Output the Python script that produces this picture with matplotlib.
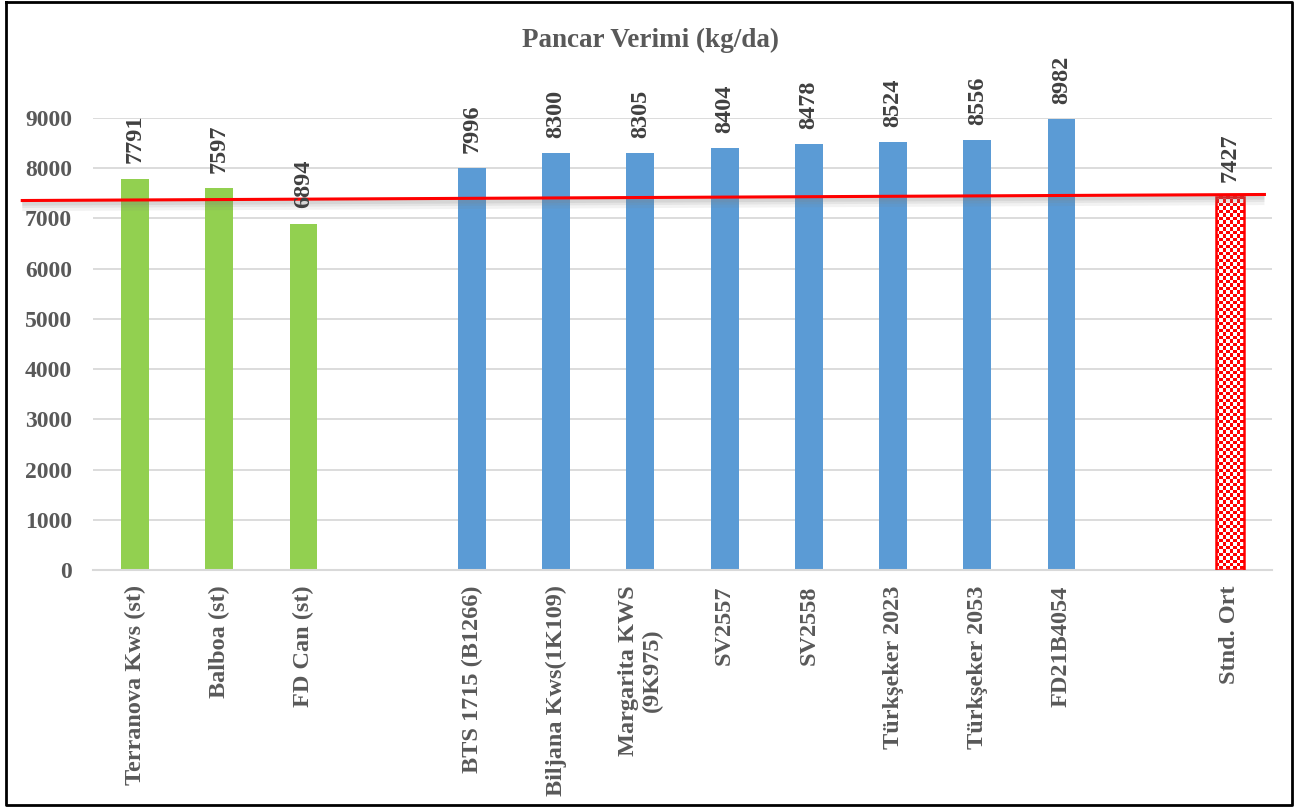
#!/usr/bin/env python3
"""Pancar verimi bar chart"""
import numpy as np
import matplotlib.pyplot as plt
from matplotlib.colors import ListedColormap
from matplotlib.lines import Line2D

standard_names = ["Terranova Kws (st)", "Balboa (st)", "FD Can (st)"]
standard_yield = [7791, 7597, 6894]
candidate_names = ["BTS 1715 (B1266)", "Biljana Kws(1K109)", "Margarita KWS\n(9K975)",
                   "SV2557", "SV2558", "Türkşeker 2023", "Türkşeker 2053", "FD21B4054"]
candidate_yield = [7996, 8300, 8305, 8404, 8478, 8524, 8556, 8982]
mean_name = "Stnd. Ort"
mean_yield = 7427
# hand drawn red reference line (start / end value)
ref_line_x = [-1.34, 13.41]
ref_line_y = [7357, 7477]
y_ticks = list(range(0, 9001, 1000))

plt.rcParams['font.family'] = ['Liberation Serif', 'DejaVu Serif']
text_grey = '#595959'
label_grey = '#404040'

fig = plt.figure(figsize=(13.09, 8.07), dpi=100)
ax = fig.add_axes([93 / 1309, 1 - 570 / 807, (1272 - 93) / 1309, (570 - 118) / 807])

std_pos = np.arange(len(standard_names))
cand_pos = np.arange(len(candidate_names)) + len(standard_names) + 1
mean_pos = cand_pos[-1] + 2
width = 0.33

ax.bar(std_pos, standard_yield, width, color='#92D050', zorder=2)
ax.bar(cand_pos, candidate_yield, width, color='#5B9BD5', zorder=2)
mean_bar = ax.bar(mean_pos, mean_yield, width, facecolor='none',
                  edgecolor='#FF0000', linewidth=1.8, zorder=3)[0]

ax.set_xlim(-0.5, mean_pos + 0.5)
ax.set_ylim(0, 9000)

# checkerboard fill for the mean bar
x0, x1 = mean_pos - width / 2, mean_pos + width / 2
p0 = ax.transData.transform((x0, 0))
p1 = ax.transData.transform((x1, mean_yield))
nx = 8
ny = int(round(nx * (p1[1] - p0[1]) / (p1[0] - p0[0])))
checker = np.add.outer(np.arange(ny), np.arange(nx)) % 2
img = ax.imshow(checker, cmap=ListedColormap(['white', '#FF0000']),
                extent=[x0, x1, 0, mean_yield], aspect='auto',
                interpolation='nearest', zorder=2.5)
ax.set_xlim(-0.5, mean_pos + 0.5)
ax.set_ylim(0, 9000)

# value labels
all_pos = list(std_pos) + list(cand_pos) + [mean_pos]
all_vals = standard_yield + candidate_yield + [mean_yield]
for x, v in zip(all_pos, all_vals):
    ax.annotate(str(v), (x, v), xytext=(0, 11), textcoords='offset points',
                rotation=90, ha='center', va='bottom', fontsize=17.5,
                fontweight='bold', color=label_grey, annotation_clip=False,
                zorder=5)

# red reference line with soft shadow
for off, a, lw in [(5, 0.10, 8), (4, 0.12, 5), (3, 0.15, 3)]:
    ax.plot(ref_line_x, [y - off * 20 for y in ref_line_y], color='#808080',
            alpha=a, lw=lw, solid_capstyle='butt', clip_on=False, zorder=3.5)
ax.plot(ref_line_x, ref_line_y, color='#FF0000', lw=2.2, clip_on=False, zorder=4)

ax.set_xticks(all_pos, standard_names + candidate_names + [mean_name],
              rotation=90, fontsize=17.5, fontweight='bold', color=text_grey)
for lab in ax.get_xticklabels():
    lab.set_multialignment('center')
ax.set_yticks(y_ticks, [str(t) for t in y_ticks], fontsize=17,
              fontweight='bold', color=text_grey)
ax.tick_params(axis='x', length=0, pad=11)
ax.tick_params(axis='y', length=0, pad=15)

ax.grid(axis='y', color='#D9D9D9', lw=1.3, zorder=0)
ax.set_axisbelow(True)
for s in ['left', 'right', 'top']:
    ax.spines[s].set_visible(False)
ax.spines['bottom'].set_color('#D9D9D9')
ax.spines['bottom'].set_linewidth(1.5)

fig.text(650 / 1309, 1 - 40 / 807, "Pancar Verimi (kg/da)", ha='center', va='center',
         fontsize=19.5, fontweight='bold', color=text_grey)

# outer frame
fx = [6 / 1309, 1292 / 1309]
fy = [1 - 2 / 807, 1 - 805 / 807]
fig.add_artist(Line2D([fx[0], fx[1], fx[1], fx[0], fx[0]],
                      [fy[0], fy[0], fy[1], fy[1], fy[0]], color='black', lw=2))

fig.savefig('out.png', dpi=100)
